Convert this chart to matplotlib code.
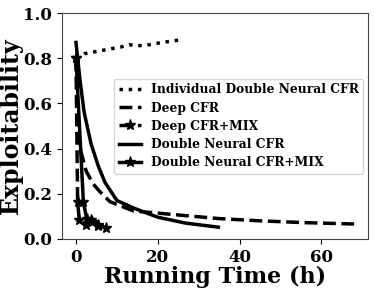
import matplotlib
matplotlib.use('Agg')
import matplotlib.pyplot as plt

plt.rcParams['font.family'] = ['DejaVu Serif']
plt.rcParams['font.weight'] = 'bold'

# Individual Double Neural CFR
ind_x = [0, 2, 5, 8, 11, 13, 15, 18, 21, 25]
ind_y = [0.80, 0.82, 0.83, 0.84, 0.85, 0.86, 0.855, 0.86, 0.87, 0.88]

# Deep CFR
deep_x = [0, 0.3, 0.6, 1.0, 1.6, 2.5, 4.1, 5.8, 8.3, 14, 25, 35, 45, 56, 68]
deep_y = [0.80, 0.62, 0.48, 0.40, 0.36, 0.30, 0.246, 0.21, 0.165, 0.124, 0.106, 0.09, 0.08, 0.072, 0.066]

# Deep CFR+MIX
deepmix_x = [0, 0.4, 0.8, 2.5, 4.0, 5.5]
deepmix_y = [0.80, 0.165, 0.085, 0.062, 0.075, 0.058]

# Double Neural CFR
dn_x = [0, 1, 2, 3.7, 5.5, 7.1, 10, 14.2, 20, 26.8, 34.8]
dn_y = [0.87, 0.70, 0.56, 0.42, 0.32, 0.25, 0.17, 0.136, 0.096, 0.07, 0.052]

# Double Neural CFR+MIX
dnmix_x = [0, 1.8, 2.6, 3.7, 5.5, 7.3]
dnmix_y = [0.80, 0.165, 0.09, 0.085, 0.06, 0.05]

fig = plt.figure(figsize=(3.74, 2.91), dpi=100)
ax = fig.add_axes([0.166, 0.179, 0.818, 0.776])

lw = 2.5
ax.plot(ind_x, ind_y, ':', color='black', lw=lw, label='Individual Double Neural CFR')
ax.plot(deep_x, deep_y, '--', color='black', lw=lw, label='Deep CFR')
ax.plot(deepmix_x, deepmix_y, '--', marker='*', ms=8, color='black', lw=lw, label='Deep CFR+MIX')
ax.plot(dn_x, dn_y, '-', color='black', lw=lw, label='Double Neural CFR')
ax.plot(dnmix_x, dnmix_y, '-', marker='*', ms=8, color='black', lw=lw, label='Double Neural CFR+MIX')

ax.set_ylim(0, 1.0)
ax.set_yticks([0.0, 0.2, 0.4, 0.6, 0.8, 1.0])
ax.set_xticks([0, 20, 40, 60])
ax.tick_params(labelsize=12)
for lab in ax.get_xticklabels() + ax.get_yticklabels():
    lab.set_fontweight('bold')
for sp in ax.spines.values():
    sp.set_color('#444444')

ax.set_xlabel('Running Time (h)', fontsize=16, fontweight='bold', labelpad=0)
ax.set_ylabel('Exploitability', fontsize=17, fontweight='bold')
ax.yaxis.set_label_coords(-0.128, 0.5)

leg = ax.legend(loc='upper right', bbox_to_anchor=(0.985, 0.71), borderaxespad=0,
                prop={'size': 8.8, 'weight': 'bold'}, handlelength=1.8, labelspacing=0.42)

fig.savefig('out.png', dpi=100)
